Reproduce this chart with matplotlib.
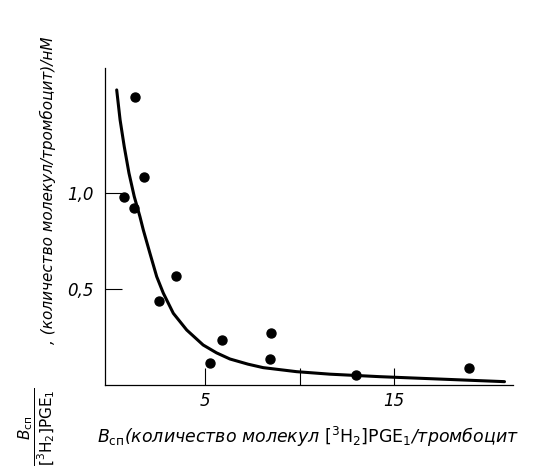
import numpy as np
import matplotlib.pyplot as plt

# measured points
x_pts = [1.27, 1.75, 0.69, 1.20, 3.44, 2.56, 5.86, 5.27, 8.50, 8.41, 13.0, 18.96]
y_pts = [1.50, 1.085, 0.98, 0.923, 0.569, 0.436, 0.233, 0.115, 0.271, 0.135, 0.052, 0.09]

# fitted curve
curve_x = [0.30, 0.48, 0.70, 0.95, 1.23, 1.53, 1.71, 2.06, 2.42, 2.77, 3.30, 4.01, 4.88,
           5.59, 6.30, 7.26, 8.06, 9.83, 11.59, 14.23, 20.85]
curve_y = [1.536, 1.380, 1.241, 1.103, 0.981, 0.877, 0.807, 0.686, 0.564, 0.478, 0.373, 0.286, 0.208,
           0.167, 0.135, 0.108, 0.090, 0.069, 0.056, 0.043, 0.017]

x_ticks = [5, 10, 15]
x_ticklabels = ["5", "", "15"]
y_ticks = [0.5, 1.0]
y_ticklabels = ["0,5", "1,0"]

fig = plt.figure(figsize=(5.44, 4.66), dpi=100)
ax = fig.add_axes([0.193, 0.174, 0.75, 0.68])

ax.plot(curve_x, curve_y, color="black", lw=2.2, solid_capstyle="round", solid_joinstyle="round")
ax.scatter(x_pts, y_pts, s=42, color="black", zorder=3)

ax.set_xlim(-0.32, 21.3)
ax.set_ylim(0, 1.65)
ax.spines["top"].set_visible(False)
ax.spines["right"].set_visible(False)
for s in ["left", "bottom"]:
    ax.spines[s].set_linewidth(0.9)

ax.set_xticks(x_ticks)
ax.set_xticklabels(x_ticklabels, fontstyle="italic", fontsize=12)
ax.set_yticks(y_ticks)
ax.set_yticklabels(y_ticklabels, fontstyle="italic", fontsize=12)
ax.tick_params(direction="in", length=12, width=0.8)
ax.tick_params(axis="y", pad=8)
ax.tick_params(axis="x", pad=5)

# x label
fig.text(0.178, 0.062,
         r"$B_{\mathrm{сп}}$(количество молекул $[^3\mathrm{H}_2]\mathrm{PGE}_1$/тромбоцит",
         fontstyle="italic", fontsize=12.5, ha="left", va="center")

# y label: fraction + text
fig.text(0.068, 0.0, r"$\dfrac{B_{\mathrm{сп}}}{[^3\mathrm{H}_2]\mathrm{PGE}_1}$",
         fontsize=11, rotation=90, ha="center", va="bottom")
fig.text(0.088, 0.262, ", (количество молекул/тромбоцит)/нМ",
         fontstyle="italic", fontsize=11, rotation=90, ha="center", va="bottom")

plt.savefig("out.png", dpi=100)
